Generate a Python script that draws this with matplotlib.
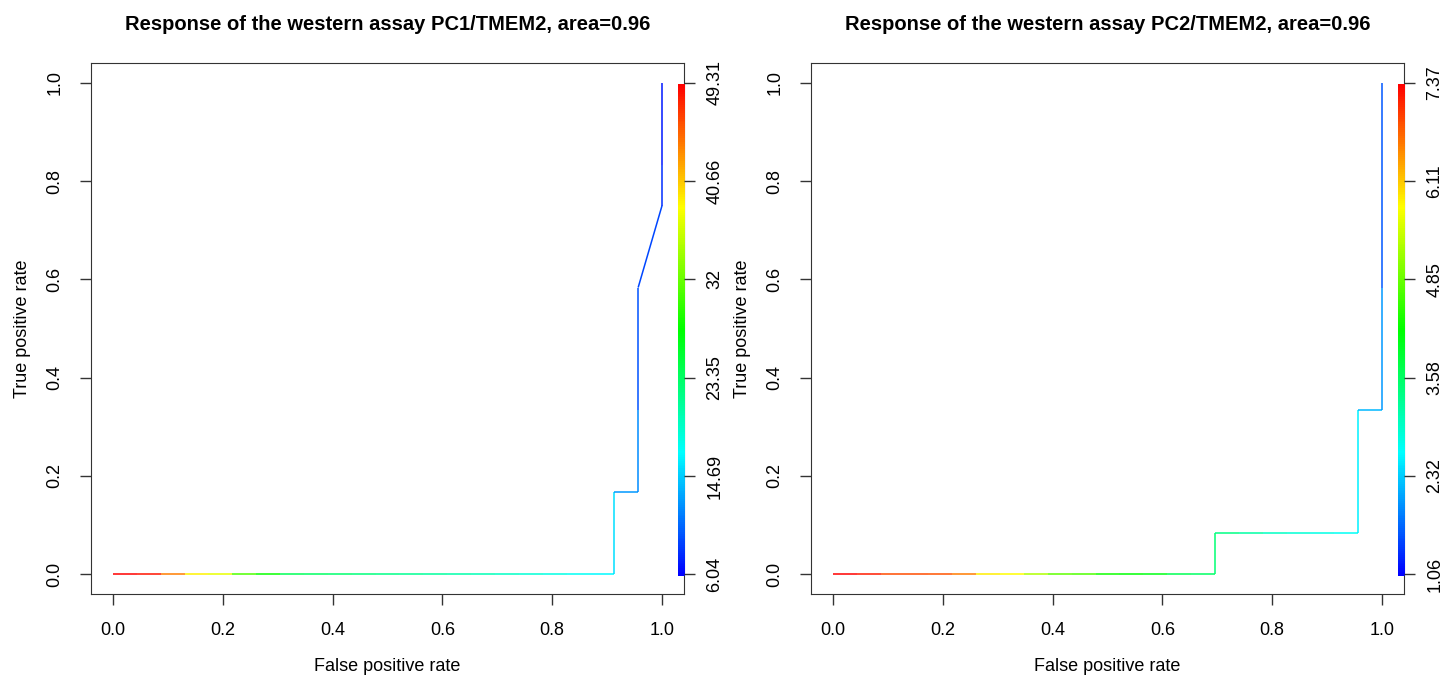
import numpy as np
import matplotlib
matplotlib.use("Agg")
import matplotlib.pyplot as plt
from matplotlib.collections import LineCollection
from matplotlib.colors import hsv_to_rgb

plt.rcParams["font.family"] = ["Liberation Sans", "DejaVu Sans"]

# ROC points (fpr, tpr) and the cutoff at each point
n_neg, n_pos = 23, 12

left_fpr = [k / n_neg for k in range(22)] + [21/23, 22/23, 22/23, 22/23, 1.0, 1.0, 1.0]
left_tpr = [0.0] * 22 + [2/12, 2/12, 4/12, 7/12, 9/12, 10/12, 1.0]
left_cut = [49.31, 48.5, 44.0, 39.0, 37.5, 31.0, 28.0, 24.0, 23.5, 23.0, 22.5,
            22.0, 21.5, 21.0, 20.5, 20.0, 19.3, 18.6, 18.0, 17.3, 16.7, 15.5,
            12.5, 12.0, 9.5, 9.0, 8.0, 7.0, 6.04]
left_ticks = ["6.04", "14.69", "23.35", "32", "40.66", "49.31"]
left_range = (6.04, 49.31)

right_fpr = ([k / n_neg for k in range(17)] + [k / n_neg for k in range(16, 23)]
             + [22/23, 1.0, 1.0, 1.0])
right_tpr = [0.0] * 17 + [1/12] * 7 + [4/12, 4/12, 7/12, 1.0]
right_cut = [7.37, 7.2, 6.9, 6.9, 6.85, 6.6, 5.9, 5.8, 5.3, 4.8, 4.7, 4.3,
             4.2, 4.1, 3.7, 3.6, 3.5,
             3.4, 3.2, 3.0, 2.9, 2.8, 2.7, 2.55,
             2.2, 2.0, 1.6, 1.06]
right_ticks = ["1.06", "2.32", "3.58", "4.85", "6.11", "7.37"]
right_range = (1.06, 7.37)

titles = ["Response of the western assay PC1/TMEM2, area=0.96",
          "Response of the western assay PC2/TMEM2, area=0.96"]


def rainbow(v, lo, hi):
    # R rainbow: red at the top cutoff, blue at the bottom one
    t = (np.asarray(v) - lo) / (hi - lo)
    h = (1 - t) * 4 / 6
    hsv = np.stack([h, np.ones_like(h), np.ones_like(h)], axis=-1)
    return hsv_to_rgb(hsv)


def roc_panel(ax, fpr, tpr, cut, rng, ticks, title):
    pts = np.column_stack([fpr, tpr])
    segs = np.stack([pts[:-1], pts[1:]], axis=1)
    cols = rainbow(cut[:-1], *rng)
    ax.add_collection(LineCollection(segs, colors=cols, linewidths=1.1))

    ax.set_xlim(-0.04, 1.04)
    ax.set_ylim(-0.04, 1.04)
    ticks_pos = np.arange(0, 1.01, 0.2)
    ax.set_xticks(ticks_pos, [f"{t:.1f}" for t in ticks_pos])
    ax.set_yticks(ticks_pos, [f"{t:.1f}" for t in ticks_pos])
    ax.tick_params(axis="both", length=8, width=1, labelsize=13, pad=12, color="#333333")
    ax.tick_params(axis="y", labelrotation=90)
    for lab in ax.get_yticklabels():
        lab.set_va("center")
    ax.set_xlabel("False positive rate", fontsize=13, labelpad=14)
    ax.set_ylabel("True positive rate", fontsize=13, labelpad=11)
    ax.set_title(title, fontsize=14.5, fontweight="bold", pad=24)
    for s in ax.spines.values():
        s.set_color("#333333")

    # colour bar drawn inside the plot region, right edge
    vals = np.linspace(0, 1, 256)[:, None]
    img = rainbow(rng[0] + vals * (rng[1] - rng[0]), *rng)
    ax.imshow(img, extent=(1.029, 1.04, -0.004, 0.996), origin="lower",
              aspect="auto", interpolation="nearest", zorder=3)

    tw = ax.twinx()
    tw.set_ylim(ax.get_ylim())
    tw.set_yticks(ticks_pos, ticks)
    tw.tick_params(axis="y", length=8, width=1, labelsize=13, pad=8,
                   labelrotation=90, color="#333333")
    for lab in tw.get_yticklabels():
        lab.set_va("center")
    for s in tw.spines.values():
        s.set_visible(False)


fig = plt.figure(figsize=(14.55, 6.79), dpi=100)
ax1 = fig.add_axes([91 / 1455, 1 - 594 / 679, (684 - 91) / 1455, (594 - 63) / 679])
ax2 = fig.add_axes([811 / 1455, 1 - 594 / 679, (1404 - 811) / 1455, (594 - 63) / 679])

roc_panel(ax1, left_fpr, left_tpr, left_cut, left_range, left_ticks, titles[0])
roc_panel(ax2, right_fpr, right_tpr, right_cut, right_range, right_ticks, titles[1])

fig.savefig("out.png", dpi=100)
